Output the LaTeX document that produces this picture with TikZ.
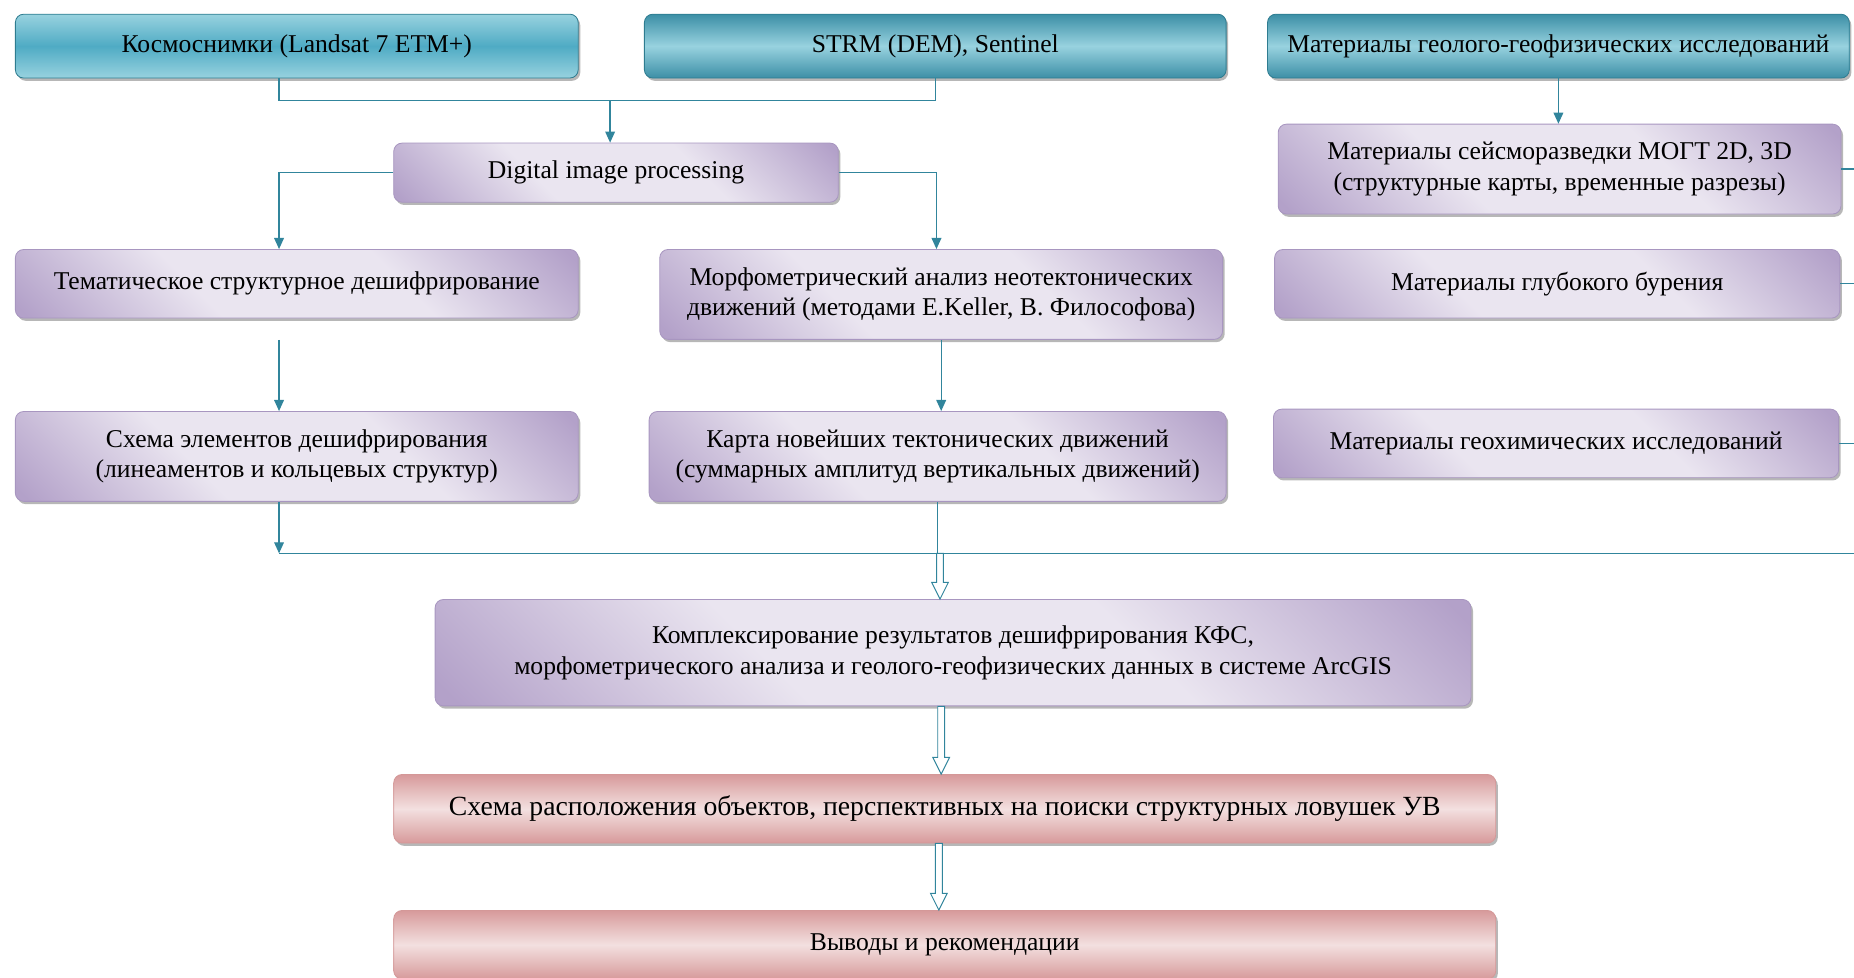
\documentclass[tikz,border=0pt]{standalone}
\usepackage{fontspec}
\setmainfont{Liberation Serif}
\usetikzlibrary{arrows.meta,calc,shadows}
\definecolor{tealline}{HTML}{31859C}
\definecolor{tealD}{HTML}{3C8FA6}
\definecolor{tealM}{HTML}{4FABC4}
\definecolor{tealL}{HTML}{98D2DF}
\definecolor{tealB}{HTML}{2E7C90}
\definecolor{lavD}{HTML}{B3A1C9}
\definecolor{lavL}{HTML}{EAE5F0}
\definecolor{lavB}{HTML}{A896C0}
\definecolor{pinkD}{HTML}{D79A9B}
\definecolor{pinkL}{HTML}{F3E0E0}
\definecolor{pinkB}{HTML}{D49898}
\pgfdeclarehorizontalshading{lavshade}{100bp}{color(0bp)=(lavD); color(16bp)=(lavD); color(38bp)=(lavL); color(62bp)=(lavL); color(84bp)=(lavD); color(100bp)=(lavD)}
\newlength\upx
\setlength\upx{0.03cm}
\newcommand{\blockarrow}[2]{%
  \draw[tealline, line width=0.7pt, fill=white, line join=miter] let \p1=(#1), \p2=(#2) in
   (\x1-2.5pt,\y1) -- (\x1-2.5pt,\y2+12pt) -- (\x1-6pt,\y2+12pt) -- (\x1,\y2)
   -- (\x1+6pt,\y2+12pt) -- (\x1+2.5pt,\y2+12pt) -- (\x1+2.5pt,\y1) -- cycle;}
\tikzset{
  box/.style={rounded corners=6pt, align=center, inner sep=2pt,
    font=\fontsize{18.5}{22}\selectfont, line width=0.6pt,
    drop shadow={shadow xshift=1.5pt, shadow yshift=-2pt, opacity=0.4, fill=black!70}},
  tealA/.style={box, draw=tealB, top color=tealL, bottom color=tealL, middle color=tealM},
  tealBx/.style={box, draw=tealB, top color=tealD, bottom color=tealD, middle color=tealL},
  lav/.style={box, draw=lavB, shading=lavshade, shading angle=45},
  pinkbox/.style={box, draw=pinkB, top color=pinkD, bottom color=pinkD, middle color=pinkL},
  line/.style={draw=tealline, line width=1pt},
  arr/.style={line, -{Triangle[length=8pt,width=7pt]}}
}
\begin{document}
\begin{tikzpicture}[x=0.03cm, y=-0.03cm]
\useasboundingbox (0,0) rectangle (1568,827);
% top row
\node[tealA, minimum width=476\upx, minimum height=54\upx] (k1) at (251,39) {Космоснимки (Landsat 7 ETM+)};
\node[tealBx, minimum width=492\upx, minimum height=54\upx] (k2) at (791,39) {STRM (DEM), Sentinel};
\node[tealBx, minimum width=492\upx, minimum height=54\upx] (k3) at (1318,39) {Материалы геолого-геофизических исследований};
% processing
\node[lav, minimum width=376\upx, minimum height=50\upx] (dip) at (521,146) {Digital image processing};
\node[lav, minimum width=476\upx, minimum height=58\upx] (tem) at (251,240) {Тематическое структурное дешифрирование};
\node[lav, minimum width=476\upx, minimum height=76\upx] (morph) at (796,249) {Морфометрический анализ неотектонических\\движений (методами E.Keller, В. Философова)};
\node[lav, minimum width=476\upx, minimum height=76\upx] (schema) at (251,386) {Схема элементов дешифрирования\\(линеаментов и кольцевых структур)};
\node[lav, minimum width=488\upx, minimum height=76\upx] (karta) at (793,386) {Карта новейших тектонических движений\\(суммарных амплитуд вертикальных движений)};
% right column
\node[lav, minimum width=476\upx, minimum height=76\upx] (seism) at (1319,143) {Материалы сейсморазведки МОГТ 2D, 3D\\(структурные карты, временные разрезы)};
\node[lav, minimum width=478\upx, minimum height=58\upx] (bur) at (1317,240) {Материалы глубокого бурения};
\node[lav, minimum width=478\upx, minimum height=58\upx] (geo) at (1316,375) {Материалы геохимических исследований};
% bottom
\node[lav, minimum width=876\upx, minimum height=90\upx] (kompl) at (806,552) {Комплексирование результатов дешифрирования КФС,\\морфометрического анализа и геолого-геофизических данных в системе ArcGIS};
\node[pinkbox, minimum width=932\upx, minimum height=58\upx, font=\fontsize{20}{24}\selectfont] (sch2) at (799,684) {Схема расположения объектов, перспективных на поиски структурных ловушек УВ};
\node[pinkbox, minimum width=932\upx, minimum height=58\upx] (vyv) at (799,799) {Выводы и рекомендации};
% connectors
\coordinate (j1) at (516,85);
\draw[line] ($(k1.south)+(-15,0)$) |- (j1) -| (k2.south);
\draw[arr] (j1) -- (j1 |- dip.north);
\draw[arr] (dip.west) -| ($(tem.north)+(-15,0)$);
\draw[arr] (dip.east) -| ($(morph.north)+(-4,0)$);
\draw[arr] ($(tem.south)+(-15,18)$) -- ($(schema.north)+(-15,0)$);
\draw[arr] (morph.south) -- (morph.south |- karta.north);
\draw[arr] (k3.south) -- (k3.south |- seism.north);
\coordinate (busL) at (236,468);
\coordinate (busR) at (1574,468);
\draw[arr] ($(schema.south)+(-15,0)$) -- (busL);
\draw[line] (busL) -- (busR);
\draw[line] (karta.south) -- (karta.south |- busL);
\coordinate (rv) at (1574,140);
\draw[line] (seism.east) -- (seism.east -| rv);
\draw[line] (bur.east) -- (bur.east -| rv);
\draw[line] (geo.east) -- (geo.east -| rv);
\draw[line] (rv) -- (busR);
% hollow arrows
\coordinate (h1) at ($(karta.south |- busL)+(2,0)$);
\blockarrow{h1}{h1 |- kompl.north}
\coordinate (h2) at ($(kompl.south)+(-10,0)$);
\blockarrow{h2}{h2 |- sch2.north}
\coordinate (h3) at ($(sch2.south)+(-5,0)$);
\blockarrow{h3}{h3 |- vyv.north}
\end{tikzpicture}
\end{document}
